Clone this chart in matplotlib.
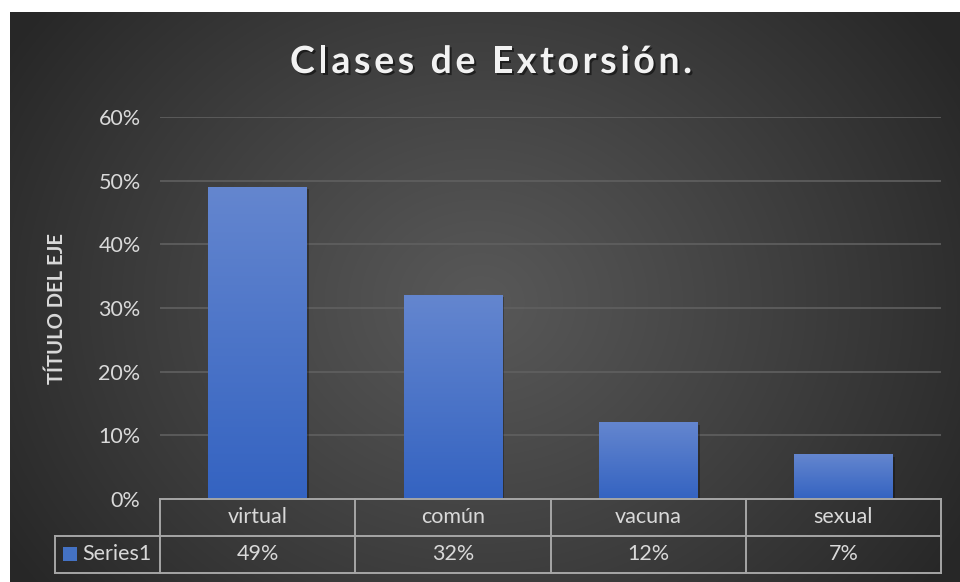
import numpy as np
import matplotlib
matplotlib.use('Agg')
import matplotlib.pyplot as plt
import matplotlib.transforms as mtransforms
import matplotlib.patheffects as pe
from matplotlib.lines import Line2D
from matplotlib.patches import Rectangle
from matplotlib.colors import LinearSegmentedColormap

# data
categories = ['virtual', 'común', 'vacuna', 'sexual']
values = [0.49, 0.32, 0.12, 0.07]
value_labels = ['49%', '32%', '12%', '7%']
yticks = [0, 0.1, 0.2, 0.3, 0.4, 0.5, 0.6]
ytick_labels = ['0%', '10%', '20%', '30%', '40%', '50%', '60%']
series_name = 'Series1'
title = 'Clases de Extorsión.'
ylabel = 'TÍTULO DEL EJE'

plt.rcParams['font.family'] = ['Lato', 'DejaVu Sans']
txt_col = '#d9d9d9'
line_col = '#a6a6a6'

W, H = 960, 582
fig = plt.figure(figsize=(W / 100, H / 100), dpi=100, facecolor='white')


def fx(px):
    return px / W


def fy(py):
    return 1 - py / H


# background with radial gradient (chart area starts at x=10, y=12)
bg = fig.add_axes([fx(10), 0, fx(950), 1 - 12 / H])
bg.set_axis_off()
yy, xx = np.mgrid[0:570, 0:950]
r = np.sqrt(((xx - 470) / 560.0) ** 2 + ((yy - 290) / 480.0) ** 2)
r = np.clip(r, 0, 1)
shade = (0x58 - (0x58 - 0x27) * r ** 1.1) / 255.0
bg.imshow(np.dstack([shade, shade, shade]), aspect='auto', extent=[0, 1, 0, 1],
          interpolation='bilinear')
bg.set_xlim(0, 1)
bg.set_ylim(0, 1)

# main plot
ax = fig.add_axes([fx(160), fy(499), fx(781), (499 - 117) / H])
ax.patch.set_alpha(0)
x = np.arange(len(categories))
bars = ax.bar(x, values, width=0.505, color='#4472c4', zorder=3,
              path_effects=[pe.SimplePatchShadow(offset=(1.5, -1.5), shadow_rgbFace='black', alpha=0.3),
                            pe.Normal()])
bar_cmap = LinearSegmentedColormap.from_list('bar', ['#3463c1', '#6486cf'])
grad = np.linspace(0, 1, 256).reshape(-1, 1)
for b in bars:
    x0, w, h = b.get_x(), b.get_width(), b.get_height()
    ax.imshow(grad, cmap=bar_cmap, origin='lower', aspect='auto',
              extent=[x0, x0 + w, 0, h], zorder=4)
ax.set_xlim(-0.5, len(categories) - 0.5)
ax.set_ylim(0, 0.6)
ax.set_yticks(yticks)
ax.set_yticklabels(ytick_labels)
ax.set_xticks([])
ax.tick_params(axis='y', length=0, pad=14, labelcolor=txt_col, labelsize=15.5)
ax.yaxis.grid(True, color='#606060', lw=1.2)
ax.set_axisbelow(True)
for s in ax.spines.values():
    s.set_visible(False)

fig.text(fx(57), fy(309), ylabel, rotation=90, ha='center', va='center',
         color=txt_col, fontsize=14.5, fontweight='bold')

# data table under the axis
tr = mtransforms.blended_transform_factory(ax.transData, fig.transFigure)
edges = np.arange(len(categories) + 1) - 0.5
for yp in [499, 536, 573]:
    fig.add_artist(Line2D([edges[0], edges[-1]], [fy(yp), fy(yp)], transform=tr,
                          color=line_col, lw=1.4, zorder=5))
for e in edges:
    fig.add_artist(Line2D([e, e], [fy(499), fy(573)], transform=tr,
                          color=line_col, lw=1.4, zorder=5))
for yp in [536, 573]:
    fig.add_artist(Line2D([fx(55), fx(160)], [fy(yp), fy(yp)], transform=fig.transFigure,
                          color=line_col, lw=1.4, zorder=5))
fig.add_artist(Line2D([fx(55), fx(55)], [fy(536), fy(573)], transform=fig.transFigure,
                      color=line_col, lw=1.4, zorder=5))
for i, (c, v) in enumerate(zip(categories, value_labels)):
    fig.text(i, fy(517), c, transform=tr, ha='center', va='center', color=txt_col, fontsize=15.5)
    fig.text(i, fy(554), v, transform=tr, ha='center', va='center', color=txt_col, fontsize=15.5)
fig.add_artist(Rectangle((fx(63), fy(561)), fx(14), 14 / H, transform=fig.transFigure,
                         facecolor='#4472c4', edgecolor='none'))
fig.text(fx(82), fy(554), series_name, ha='left', va='center', color=txt_col, fontsize=15.5)

# title with letter spacing
renderer = fig.canvas.get_renderer()
tkw = dict(fontsize=27, fontweight='bold', color='#f2f2f2')


def text_w(s):
    t = fig.text(0, 0, s, **tkw)
    w = t.get_window_extent(renderer).width
    t.remove()
    return w


bar_w = text_w('|')
offsets = [text_w(title[:i] + '|') - bar_w for i in range(len(title))]
natural = text_w(title)
left, right = 290, 692
spacing = (right - left - natural) / (len(title) - 1)
for i, ch in enumerate(title):
    if ch == ' ':
        continue
    fig.text(fx(left + offsets[i] + i * spacing), fy(73), ch, ha='left', va='baseline',
             path_effects=[pe.withSimplePatchShadow(offset=(1.5, -1.5), shadow_rgbFace='black', alpha=0.5)],
             **tkw)

fig.savefig('out.png', dpi=100, facecolor='white')
